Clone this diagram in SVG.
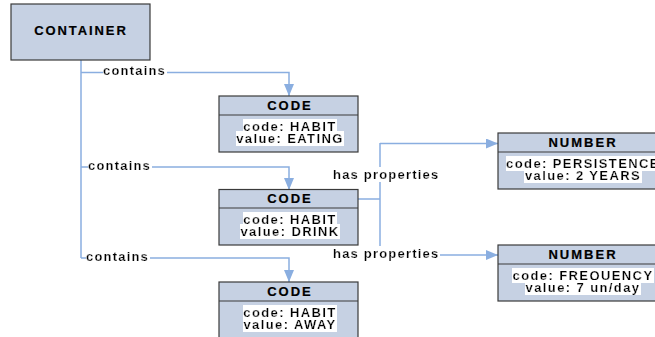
<svg xmlns="http://www.w3.org/2000/svg" width="655" height="337" viewBox="0 0 655 337">
<defs>
<filter id="bg" x="0" y="0.06" width="1" height="0.9"><feFlood flood-color="#ffffff"/><feComposite in="SourceGraphic" operator="over"/></filter>
<marker id="arr" viewBox="0 0 12 10" refX="12" refY="5" markerWidth="12" markerHeight="10" markerUnits="userSpaceOnUse" orient="auto"><path d="M0,0 L12,5 L0,10 Z" fill="#8aaee0"/></marker>
<style>
.box{fill:#c6d1e3;stroke:#3a3a3a;stroke-width:1.2}
.div{stroke:#3a3a3a;stroke-width:1.2}
.t{font-family:"Liberation Sans",Arial,sans-serif;font-weight:bold;font-size:13px;letter-spacing:1.4px;fill:#000;stroke:#000;stroke-width:0.2;text-anchor:middle}
.h{letter-spacing:2px}
.hl{filter:url(#bg)}
.lbl{font-family:"Liberation Sans",Arial,sans-serif;font-weight:bold;font-size:13px;letter-spacing:1.2px;fill:#000;stroke:#000;stroke-width:0.2}
.c{fill:none;stroke:#8aaee0;stroke-width:1.5}
</style>
</defs>
<g id="connectors">
<path class="c" d="M81,60 V258"/>
<path class="c" d="M81,72.5 H289 V96" marker-end="url(#arr)"/>
<path class="c" d="M81,167 H289 V190" marker-end="url(#arr)"/>
<path class="c" d="M81,258 H289 V282" marker-end="url(#arr)"/>
<path class="c" d="M358,199 H380"/>
<path class="c" d="M380,143 V255"/>
<path class="c" d="M380,143.5 H498" marker-end="url(#arr)"/>
<path class="c" d="M380,255 H498" marker-end="url(#arr)"/>
<text class="lbl hl" x="103" y="75">contains</text>
<text class="lbl hl" x="88" y="170">contains</text>
<text class="lbl hl" x="86" y="261">contains</text>
<text class="lbl hl" x="333" y="179">has properties</text>
<text class="lbl hl" x="333" y="258">has properties</text>
</g>
<g id="container">
<rect class="box" x="11" y="4" width="139" height="56"/>
<text class="t" x="81" y="35" style="letter-spacing:1.9px">CONTAINER</text>
</g>
<g id="code1">
<rect class="box" x="219" y="96" width="139" height="56"/>
<line class="div" x1="219" y1="115" x2="358" y2="115"/>
<text class="t h" x="290" y="110">CODE</text>
<text class="t hl" x="290" y="131">code: HABIT</text>
<text class="t hl" x="290" y="143">value: EATING</text>
</g>
<g id="code2">
<rect class="box" x="219" y="189.5" width="139" height="55.5"/>
<line class="div" x1="219" y1="208" x2="358" y2="208"/>
<text class="t h" x="290" y="203">CODE</text>
<text class="t hl" x="290" y="224">code: HABIT</text>
<text class="t hl" x="290" y="236">value: DRINK</text>
</g>
<g id="code3">
<rect class="box" x="219" y="282" width="139" height="60"/>
<line class="div" x1="219" y1="301" x2="358" y2="301"/>
<text class="t h" x="290" y="296">CODE</text>
<text class="t hl" x="290" y="317">code: HABIT</text>
<text class="t hl" x="290" y="329">value: AWAY</text>
</g>
<g id="number1">
<rect class="box" x="498" y="133" width="168" height="56"/>
<line class="div" x1="498" y1="152" x2="666" y2="152"/>
<text class="t h" x="583" y="147">NUMBER</text>
<text class="t hl" x="583" y="168">code: PERSISTENCE</text>
<text class="t hl" x="583" y="180">value: 2 YEARS</text>
</g>
<g id="number2">
<rect class="box" x="498" y="245" width="168" height="56"/>
<line class="div" x1="498" y1="264" x2="666" y2="264"/>
<text class="t h" x="583" y="259">NUMBER</text>
<text class="t hl" x="583" y="280">code: FREQUENCY</text>
<text class="t hl" x="583" y="292">value: 7 un/day</text>
</g>
</svg>
